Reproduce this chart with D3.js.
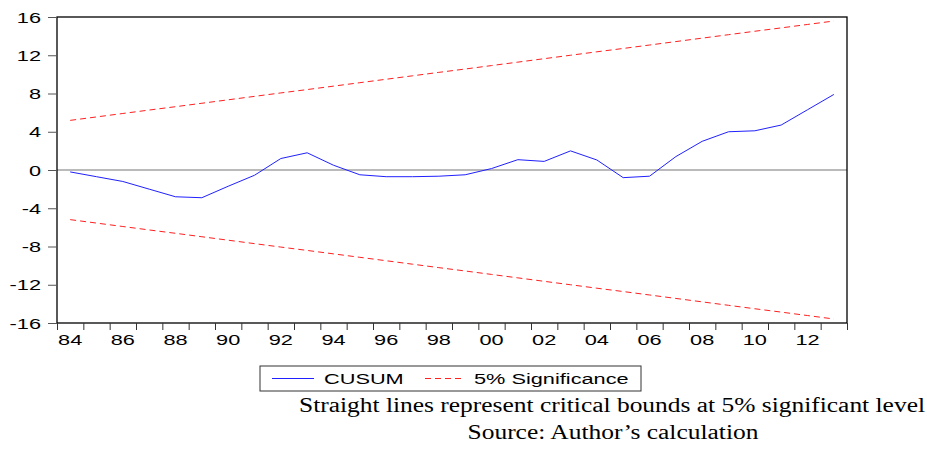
<!DOCTYPE html>
<html>
<head>
<meta charset="utf-8">
<script src="https://cdn.jsdelivr.net/npm/d3@7"></script>
<style>
  html, body { margin: 0; padding: 0; background: #fff; }
  svg { display: block; }
</style>
</head>
<body>
<svg id="chart" width="927" height="449"></svg>
<script>
// ---- data ----
const years = [1984,1985,1986,1987,1988,1989,1990,1991,1992,1993,1994,1995,1996,1997,1998,1999,
               2000,2001,2002,2003,2004,2005,2006,2007,2008,2009,2010,2011,2012,2013];
const cusum = [-0.2,-0.7,-1.2,-2.0,-2.8,-2.9,-1.7,-0.55,1.2,1.8,0.5,-0.5,-0.7,-0.7,-0.65,-0.5,
               0.15,1.08,0.9,2.0,1.05,-0.8,-0.65,1.4,3.0,4.0,4.1,4.7,6.3,7.9];
const upperBound = [5.19,5.55,5.91,6.27,6.62,6.98,7.34,7.70,8.06,8.41,8.77,9.13,9.49,9.85,10.21,
                    10.56,10.92,11.28,11.64,12.00,12.36,12.71,13.07,13.43,13.79,14.15,14.51,14.86,15.22,15.58];
const lowerBound = [-5.19,-5.55,-5.91,-6.27,-6.62,-6.98,-7.34,-7.70,-8.06,-8.41,-8.77,-9.13,-9.49,-9.85,-10.21,
                    -10.56,-10.92,-11.28,-11.64,-12.00,-12.36,-12.71,-13.07,-13.43,-13.79,-14.15,-14.51,-14.86,-15.22,-15.58];
const yTicks = [-16,-12,-8,-4,0,4,8,12,16];
const xLabelYears = [1984,1986,1988,1990,1992,1994,1996,1998,2000,2002,2004,2006,2008,2010,2012];
const xLabels = ["84","86","88","90","92","94","96","98","00","02","04","06","08","10","12"];
const legendLabels = ["CUSUM", "5% Significance"];
const noteLines = ["Straight lines represent critical bounds at 5% significant level", "Source: Author\u2019s calculation"];

// ---- layout ----
const L = 57, R = 847, T = 17, B = 323;
const SX = 1.5; // horizontal stretch of sans text in the reference
const sansFont = "'Liberation Sans', Arial, sans-serif";

const svg = d3.select("#chart");
const x = d3.scaleLinear().domain([1984, 2014]).range([L, R]);
const y = d3.scaleLinear().domain([-16, 16]).range([B, T]);

// zero line
svg.append("line")
  .attr("x1", L).attr("x2", R).attr("y1", y(0)).attr("y2", y(0))
  .attr("stroke", "#777").attr("stroke-width", 1.2);

const line = d3.line().x((d, i) => x(years[i] + 0.5)).y(d => y(d));

svg.append("path").datum(upperBound).attr("d", line)
  .attr("fill", "none").attr("stroke", "#ff2020").attr("stroke-width", 1)
  .attr("stroke-dasharray", "6,4");
svg.append("path").datum(lowerBound).attr("d", line)
  .attr("fill", "none").attr("stroke", "#ff2020").attr("stroke-width", 1)
  .attr("stroke-dasharray", "6,4");
svg.append("path").datum(cusum).attr("d", line)
  .attr("fill", "none").attr("stroke", "#2020ff").attr("stroke-width", 1);

// frame
svg.append("rect").attr("x", L).attr("y", T).attr("width", R - L).attr("height", B - T)
  .attr("fill", "none").attr("stroke", "#000").attr("stroke-width", 1.3);

// y axis
const yAxis = d3.axisLeft(y).tickValues(yTicks).tickSize(9).tickPadding(0).tickFormat(d => String(d));
const gy = svg.append("g").attr("transform", `translate(${L},0)`).call(yAxis);
gy.select(".domain").remove();
gy.selectAll(".tick line").attr("stroke", "#555");
gy.selectAll(".tick text")
  .attr("x", -16 / SX).attr("dy", "0.36em")
  .attr("transform", `scale(${SX},1)`)
  .attr("font-family", sansFont).attr("font-size", 14.5).attr("fill", "#000");

// x axis: ticks at every year boundary
const xAxis = d3.axisBottom(x).tickValues(d3.range(1984, 2015)).tickSize(7).tickFormat("");
const gx = svg.append("g").attr("transform", `translate(0,${B})`).call(xAxis);
gx.select(".domain").remove();
gx.selectAll(".tick line").attr("stroke", "#333");

svg.append("g").selectAll("text").data(xLabelYears).join("text")
  .attr("transform", (d) => `translate(${x(d + 0.5)},${B + 22}) scale(${SX},1)`)
  .attr("text-anchor", "middle")
  .attr("font-family", sansFont).attr("font-size", 14.5).attr("fill", "#000")
  .text((d, i) => xLabels[i]);

// legend
const lg = svg.append("g");
lg.append("rect").attr("x", 260).attr("y", 366).attr("width", 381).attr("height", 25)
  .attr("fill", "#fff").attr("stroke", "#333").attr("stroke-width", 1);
lg.append("line").attr("x1", 272).attr("x2", 314).attr("y1", 378.5).attr("y2", 378.5)
  .attr("stroke", "#2020ff").attr("stroke-width", 1);
lg.append("line").attr("x1", 425).attr("x2", 463).attr("y1", 378.5).attr("y2", 378.5)
  .attr("stroke", "#ff2020").attr("stroke-width", 1).attr("stroke-dasharray", "6,4");
lg.selectAll("text.leg").data(legendLabels).join("text")
  .attr("class", "leg")
  .attr("transform", (d, i) => `translate(${i === 0 ? 324 : 474},384) scale(${SX},1)`)
  .attr("font-family", sansFont).attr("font-size", 14.5).attr("fill", "#000")
  .text(d => d);

// notes
const noteGeom = [{cx: 612, y: 412, len: 626}, {cx: 613, y: 439, len: 291}];
svg.selectAll("text.note").data(noteLines).join("text")
  .attr("class", "note")
  .attr("x", (d, i) => noteGeom[i].cx).attr("y", (d, i) => noteGeom[i].y)
  .attr("text-anchor", "middle")
  .attr("textLength", (d, i) => noteGeom[i].len).attr("lengthAdjust", "spacingAndGlyphs")
  .attr("font-family", "'Liberation Serif', 'Times New Roman', serif").attr("font-size", 20.5)
  .attr("fill", "#000")
  .text(d => d);
</script>
</body>
</html>
